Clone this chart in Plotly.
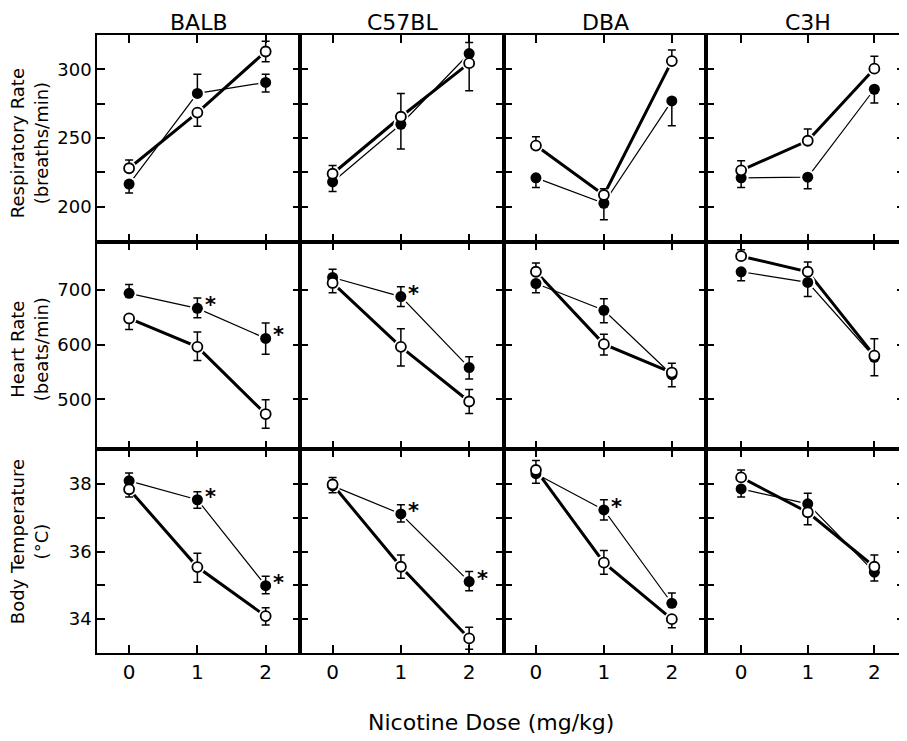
import plotly.graph_objects as go
from plotly.subplots import make_subplots

STRAINS = ["BALB", "C57BL", "DBA", "C3H"]
DOSES = [0, 1, 2]
DOSE_TICKS = ["0", "1", "2"]

# Respiratory rate (breaths/min)
resp_filled = [[216.5, 282.5, 290.5], [218, 260, 311.5], [221, 202.5, 277], [221, 221.5, 285.5]]
resp_filled_up = [[0, 14, 6], [0, 0, 8], [0, 0, 0], [0, 0, 0]]
resp_filled_dn = [[6.5, 0, 7], [7, 18, 0], [7, 12, 18], [7, 8.5, 10]]
resp_open = [[228, 268.5, 313], [224, 265.5, 304.5], [244.5, 208.5, 306], [226.5, 248, 300.5]]
resp_open_up = [[6, 0, 7.5], [6, 17, 0], [6.5, 4.5, 8], [7, 8.5, 9]]
resp_open_dn = [[0, 10, 7.5], [0, 0, 20], [0, 0, 0], [0, 0, 0]]

# Heart rate (beats/min)
hr_filled = [[694, 666.5, 611.5], [723, 688, 558], [712, 663, 545], [733.5, 714, 577]]
hr_filled_up = [[16, 19, 28], [15, 18, 20], [0, 21, 21], [0, 0, 0]]
hr_filled_dn = [[0, 17, 29], [0, 18, 21], [17, 23, 22], [16.5, 26, 0]]
hr_open = [[648, 596, 473], [713, 596, 496], [733.5, 601, 549], [762, 733.5, 580]]
hr_open_up = [[0, 27, 26], [0, 33, 22], [16, 18, 0], [12, 18, 31]]
hr_open_dn = [[20, 25, 26], [18, 35, 22], [0, 20, 0], [0, 0, 37]]

# Body temperature (°C)
temp_filled = [[38.09, 37.53, 34.99], [37.94, 37.11, 35.11], [38.30, 37.23, 34.47], [37.85, 37.41, 35.39]]
temp_filled_up = [[0.23, 0.24, 0.28], [0, 0.27, 0.3], [0, 0.3, 0.3], [0, 0.31, 0]]
temp_filled_dn = [[0, 0.25, 0.24], [0.2, 0.24, 0.27], [0.28, 0.3, 0], [0.24, 0, 0.26]]
temp_open = [[37.84, 35.54, 34.09], [37.98, 35.55, 33.43], [38.41, 35.67, 34.0], [38.19, 37.16, 35.55]]
temp_open_up = [[0, 0.41, 0.25], [0.21, 0.35, 0.33], [0.28, 0.36, 0], [0.22, 0, 0.35]]
temp_open_dn = [[0.23, 0.45, 0.26], [0, 0.34, 0.32], [0, 0.34, 0.25], [0, 0.37, 0]]

# significance asterisks: (strain index, dose) on the filled series
hr_stars = [(0, 1), (0, 2), (1, 1)]
temp_stars = [(0, 1), (0, 2), (1, 1), (1, 2), (2, 1)]

ROW_LABELS = ["Respiratory Rate<br>(breaths/min)", "Heart Rate<br>(beats/min)", "Body Temperature<br>(°C)"]
ROW_RANGES = [[174.3, 325], [409, 788], [33.0, 39.03]]
ROW_TICKVALS = [[200, 225, 250, 275, 300], [500, 600, 700], [34, 35, 36, 37, 38]]
ROW_TICKTEXT = [["200", "", "250", "", "300"], ["500", "600", "700"], ["34", "", "36", "", "38"]]
X_LABEL = "Nicotine Dose (mg/kg)"

rows_data = [
    (resp_filled, resp_filled_up, resp_filled_dn, resp_open, resp_open_up, resp_open_dn, []),
    (hr_filled, hr_filled_up, hr_filled_dn, hr_open, hr_open_up, hr_open_dn, hr_stars),
    (temp_filled, temp_filled_up, temp_filled_dn, temp_open, temp_open_up, temp_open_dn, temp_stars),
]

FONT = "DejaVu Sans"
OFF = 8  # page body margin
W, H = 907 - OFF, 741 - OFF
# layout positions in page pixels
col_px = [97, 301, 505, 708, 907]
row_px = [35, 242, 449, 653]
L = col_px[0] - OFF
T = row_px[0] - OFF
B = H - (row_px[-1] - OFF)
R = 0
pw, ph = W - L - R, H - T - B


def px_x(p):
    return (p - OFF - L) / pw


def px_y(p):
    return (H - B - (p - OFF)) / ph


xdom = [[px_x(col_px[i]), min(1.0, px_x(col_px[i + 1]))] for i in range(4)]
ydom = [[px_y(row_px[i + 1]), px_y(row_px[i])] for i in range(3)]

fig = make_subplots(rows=3, cols=4, horizontal_spacing=0, vertical_spacing=0)

for r, (fm, fu, fd, om, ou, od, stars) in enumerate(rows_data):
    for c in range(4):
        kw = dict(row=r + 1, col=c + 1)
        fig.add_trace(go.Scatter(x=DOSES, y=fm[c], mode="lines",
                                 line=dict(color="black", width=1.2), hoverinfo="skip"), **kw)
        fig.add_trace(go.Scatter(x=DOSES, y=om[c], mode="lines",
                                 line=dict(color="black", width=3), hoverinfo="skip"), **kw)
        for ys in (fm[c], om[c]):
            fig.add_trace(go.Scatter(x=DOSES, y=ys, mode="markers",
                                     marker=dict(color="white", size=15, line=dict(width=0)),
                                     hoverinfo="skip"), **kw)
        fig.add_trace(go.Scatter(
            x=DOSES, y=fm[c], mode="markers",
            marker=dict(color="black", size=11, symbol="circle", line=dict(width=0)),
            error_y=dict(type="data", symmetric=False, array=fu[c], arrayminus=fd[c],
                         color="black", thickness=1.5, width=4)), **kw)
        fig.add_trace(go.Scatter(
            x=DOSES, y=om[c], mode="markers",
            marker=dict(color="white", size=10, symbol="circle", line=dict(color="black", width=1.8)),
            error_y=dict(type="data", symmetric=False, array=ou[c], arrayminus=od[c],
                         color="black", thickness=1.5, width=4)), **kw)
    for (si, d) in stars:
        n = r * 4 + si + 1
        xa = "x" if n == 1 else "x%d" % n
        ya = "y" if n == 1 else "y%d" % n
        fig.add_annotation(x=DOSES[d], y=fm[si][d], xref=xa, yref=ya, text="<b>*</b>",
                           showarrow=False, xshift=13, yshift=3,
                           font=dict(family=FONT, size=21, color="black"))

for r in range(3):
    for c in range(4):
        idx = r * 4 + c + 1
        xk = "xaxis" if idx == 1 else "xaxis%d" % idx
        yk = "yaxis" if idx == 1 else "yaxis%d" % idx
        xr = [-0.47, 2.51] if c < 3 else [-0.52, 2.46]
        fig.layout[xk].update(domain=xdom[c], range=xr, tickvals=DOSES, ticktext=DOSE_TICKS,
                              showticklabels=(r == 2), ticks="inside", ticklen=8, tickwidth=1.5,
                              tickcolor="black", showline=True, linecolor="black", linewidth=1.5,
                              mirror="ticks", showgrid=False, zeroline=False,
                              tickfont=dict(family=FONT, size=20, color="black"))
        fig.layout[yk].update(domain=ydom[r], range=ROW_RANGES[r], tickvals=ROW_TICKVALS[r],
                              ticktext=ROW_TICKTEXT[r], showticklabels=(c == 0), ticks="inside",
                              ticklen=8, tickwidth=1.5, tickcolor="black", showline=True,
                              linecolor="black", linewidth=1.5, mirror="ticks", showgrid=False,
                              zeroline=False, tickfont=dict(family=FONT, size=18, color="black"))

title_x = [199, 403, 607, 810]
for c, s in enumerate(STRAINS):
    fig.add_annotation(x=px_x(title_x[c]), y=px_y(22), xref="paper", yref="paper", text=s,
                       showarrow=False, xanchor="center", yanchor="middle",
                       font=dict(family=FONT, size=22, color="black"))

row_centers = [143, 349, 542]
for r in range(3):
    fig.add_annotation(x=px_x(29), y=px_y(row_centers[r]), xref="paper", yref="paper",
                       text=ROW_LABELS[r], textangle=-90, showarrow=False,
                       xanchor="center", yanchor="middle",
                       font=dict(family=FONT, size=18, color="black"))

fig.add_annotation(x=px_x(492), y=px_y(722), xref="paper", yref="paper",
                   text=X_LABEL, showarrow=False, xanchor="center", yanchor="middle",
                   font=dict(family=FONT, size=22, color="black"))

fig.update_layout(width=W, height=H, margin=dict(l=L, r=R, t=T, b=B),
                  showlegend=False, plot_bgcolor="white", paper_bgcolor="white")

fig.write_html("out.html")
